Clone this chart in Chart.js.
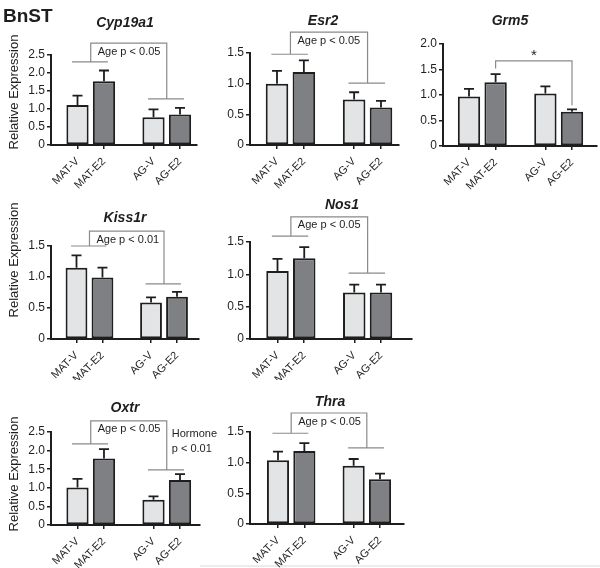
<!DOCTYPE html>
<html><head><meta charset="utf-8">
<script src="https://cdn.jsdelivr.net/npm/chart.js@4.4.1/dist/chart.umd.min.js"></script>
<style>
html,body{margin:0;padding:0;background:#fff;}
body{width:600px;height:568px;overflow:hidden;position:relative;}
canvas{position:absolute;}
#edge{position:absolute;left:200px;top:565px;width:400px;height:2px;background:#ececec;}
</style></head><body>
<div id="edge"></div>
<script>
// ---- data ----
const regionName = 'BnST';
const yAxisTitle = 'Relative Expression';
const categories = ['MAT-V', 'MAT-E2', 'AG-V', 'AG-E2'];
const geneNames = ['Cyp19a1', 'Esr2', 'Grm5', 'Kiss1r', 'Nos1', 'Oxtr', 'Thra'];
const cyp19a1 = [1.11, 1.77, 0.77, 0.85];
const cyp19a1Sem = [0.26, 0.30, 0.22, 0.18];
const esr2 = [1.00, 1.19, 0.74, 0.61];
const esr2Sem = [0.21, 0.19, 0.12, 0.11];
const grm5 = [0.97, 1.25, 1.03, 0.67];
const grm5Sem = [0.15, 0.16, 0.14, 0.05];
const kiss1r = [1.15, 0.99, 0.59, 0.68];
const kiss1rSem = [0.20, 0.16, 0.08, 0.08];
const nos1 = [1.05, 1.25, 0.72, 0.72];
const nos1Sem = [0.19, 0.17, 0.12, 0.12];
const oxtr = [1.01, 1.79, 0.68, 1.21];
const oxtrSem = [0.23, 0.25, 0.09, 0.16];
const thra = [1.04, 1.19, 0.95, 0.73];
const thraSem = [0.14, 0.13, 0.11, 0.09];
const axisMax = [2.5, 1.5, 2.0, 1.5, 1.5, 2.5, 1.5];
const tickStep = 0.5;
const statText = ['Age p < 0.05', 'Age p < 0.05', '*', 'Age p < 0.01', 'Age p < 0.05', 'Age p < 0.05', 'Age p < 0.05'];
const hormoneText = ['Hormone', 'p < 0.01'];

const means = [cyp19a1, esr2, grm5, kiss1r, nos1, oxtr, thra];
const sems = [cyp19a1Sem, esr2Sem, grm5Sem, kiss1rSem, nos1Sem, oxtrSem, thraSem];

// ---- layout (pixels) and annotation levels (axis units) ----
const layout = [
  {L:0,   T:0,   W:205, H:190, axisX:51,  axisEnd:197, zeroY:145, topY:55,  c0:77.5,  c3:180, titleX:125, titleY:23,  yTitleY:92,  br:[2.31,2.83,1.28]},
  {L:200, T:0,   W:205, H:190, axisX:250, axisEnd:399, zeroY:145, topY:53,  c0:277,   c3:381, titleX:323, titleY:21,  br:[1.48,1.84,1.01]},
  {L:400, T:0,   W:200, H:190, axisX:443, axisEnd:597, zeroY:146, topY:44,  c0:469,   c3:572, titleX:510, titleY:21,  pair:true, br:[1.52,1.67,0.80]},
  {L:0,   T:190, W:205, H:190, axisX:51,  axisEnd:199, zeroY:339, topY:246, c0:76.5,  c3:177, titleX:125, titleY:218, yTitleY:260, br:[1.50,1.74,0.89]},
  {L:200, T:190, W:220, H:190, axisX:250, axisEnd:412, zeroY:339, topY:242, c0:277.5, c3:381, titleX:342, titleY:205, br:[1.59,1.89,1.02]},
  {L:0,   T:380, W:220, H:188, axisX:51,  axisEnd:200, zeroY:525, topY:432, c0:77.5,  c3:180, titleX:125, titleY:408, yTitleY:474, br:[2.18,2.80,1.48], hormone:2.45},
  {L:200, T:380, W:210, H:188, axisX:250, axisEnd:404, zeroY:524, topY:432, c0:278,   c3:380, titleX:330, titleY:402, br:[1.48,1.81,1.24]}
];
const GAP = 0.87;
const LIGHT = '#e3e4e6', DARK = '#7f8083', INK = '#1e1e1e', BRACKET = '#8a8a8a';
const FAMILY = '"Liberation Sans", Arial, Helvetica, sans-serif';
Chart.defaults.font.family = FAMILY;
Chart.defaults.color = INK;

const annotPlugin = {
  id: 'annot',
  afterDraw(chart, args, o) {
    const ctx = chart.ctx, xs = chart.scales.x, ys = chart.scales.y;
    const meta = chart.getDatasetMeta(0);
    ctx.save();
    // error bars (upper)
    ctx.strokeStyle = INK; ctx.lineWidth = 1.8;
    meta.data.forEach((bar, i) => {
      const yt = ys.getPixelForValue(o.mean[i] + o.sem[i]);
      ctx.beginPath();
      ctx.moveTo(bar.x, bar.y); ctx.lineTo(bar.x, yt);
      ctx.moveTo(bar.x - 5, yt); ctx.lineTo(bar.x + 5, yt);
      ctx.stroke();
    });
    // brackets
    const sx = o.slots.map(v => xs.getPixelForValue(v));
    const u = sx[1] - sx[0];
    const [mL, tL, aL] = o.br.map(v => ys.getPixelForValue(v));
    ctx.strokeStyle = BRACKET; ctx.lineWidth = 1.2;
    ctx.fillStyle = INK;
    if (o.pair) {
      ctx.beginPath();
      ctx.moveTo(sx[1], mL); ctx.lineTo(sx[1], tL); ctx.lineTo(sx[3], tL); ctx.lineTo(sx[3], aL);
      ctx.stroke();
      ctx.font = '15px ' + FAMILY; ctx.textAlign = 'center'; ctx.textBaseline = 'alphabetic';
      ctx.fillText(o.stat, (sx[1] + sx[3]) / 2, tL - 0.5);
    } else {
      const mMid = (sx[0] + sx[1]) / 2, aMid = (sx[2] + sx[3]) / 2;
      ctx.beginPath();
      ctx.moveTo(sx[0] - 0.21 * u, mL); ctx.lineTo(sx[1] + 0.15 * u, mL);
      ctx.moveTo(mMid, mL); ctx.lineTo(mMid, tL); ctx.lineTo(aMid, tL); ctx.lineTo(aMid, aL);
      ctx.moveTo(sx[2] - 0.21 * u, aL); ctx.lineTo(sx[3] + 0.15 * u, aL);
      ctx.stroke();
      ctx.font = '11px ' + FAMILY; ctx.textAlign = 'left'; ctx.textBaseline = 'middle';
      ctx.fillText(o.stat, mMid + 7, tL + 8.5);
      if (o.hormone !== undefined) {
        const hy = ys.getPixelForValue(o.hormone);
        o.hormoneLines.forEach((t, j) => ctx.fillText(t, aMid + 5, hy + j * 15));
      }
    }
    // gene title
    ctx.font = 'italic bold 14px ' + FAMILY; ctx.textAlign = 'center'; ctx.textBaseline = 'middle';
    ctx.fillText(o.title, o.titleX, o.titleY);
    // y axis title
    if (o.yTitleY !== undefined) {
      ctx.save();
      ctx.translate(14.5, o.yTitleY);
      ctx.rotate(-Math.PI / 2);
      ctx.font = '13px ' + FAMILY; ctx.textAlign = 'center'; ctx.textBaseline = 'middle';
      ctx.fillText(o.yTitle, 0, 0);
      ctx.restore();
    }
    if (o.region) {
      ctx.font = 'bold 19px ' + FAMILY; ctx.textAlign = 'left'; ctx.textBaseline = 'alphabetic';
      ctx.fillText(o.region, 3, 22);
    }
    ctx.restore();
  }
};

function makeChart(k) {
  const P = layout[k];
  const cv = document.createElement('canvas');
  cv.width = P.W; cv.height = P.H;
  cv.style.left = P.L + 'px'; cv.style.top = P.T + 'px';
  cv.style.width = P.W + 'px'; cv.style.height = P.H + 'px';
  document.body.appendChild(cv);
  const slots = categories.map((c, i) => i + (i >= 2 ? GAP : 0));
  const unit = (P.c3 - P.c0) / (3 + GAP);
  const xmin = -(P.c0 - P.axisX) / unit;
  const xmax = 3 + GAP + (P.axisEnd - P.c3) / unit;
  new Chart(cv, {
    type: 'bar',
    data: {
      datasets: [{
        data: means[k].map((v, i) => ({x: slots[i], y: v})),
        backgroundColor: categories.map((c, i) => i % 2 ? DARK : LIGHT),
        borderColor: INK, borderWidth: 2, borderSkipped: false,
        barPercentage: 0.84, categoryPercentage: 1
      }]
    },
    options: {
      responsive: false, animation: false, devicePixelRatio: 1,
      layout: {autoPadding: false, padding: {left: 0, bottom: 0, top: P.topY - P.T, right: P.L + P.W - P.axisEnd}},
      plugins: {
        legend: {display: false}, tooltip: {enabled: false},
        annot: {
          mean: means[k], sem: sems[k], slots: slots, br: P.br, pair: !!P.pair,
          stat: statText[k], title: geneNames[k],
          titleX: P.titleX - P.L, titleY: P.titleY - P.T,
          yTitleY: P.yTitleY !== undefined ? P.yTitleY - P.T : undefined, yTitle: yAxisTitle,
          hormone: P.hormone, hormoneLines: hormoneText,
          region: k === 0 ? regionName : null
        }
      },
      scales: {
        x: {
          type: 'linear', min: xmin, max: xmax, offset: false,
          afterBuildTicks: s => { s.ticks = slots.map(v => ({value: v})); },
          afterFit: s => { s.height = P.H - (P.zeroY - P.T); },
          grid: {display: true, drawOnChartArea: false, drawTicks: true, tickLength: 4, color: INK, lineWidth: 1.5, offset: false},
          border: {display: true, color: INK, width: 2},
          ticks: {autoSkip: false, minRotation: 45, maxRotation: 45, padding: 6, color: INK, font: {size: 11},
                  callback: (v, i) => categories[i]}
        },
        y: {
          min: 0, max: axisMax[k],
          afterFit: s => { s.width = P.axisX - P.L; },
          grid: {display: true, drawOnChartArea: false, drawTicks: true, tickLength: 4, color: INK, lineWidth: 1.5},
          border: {display: true, color: INK, width: 2},
          ticks: {stepSize: tickStep, padding: 2, color: INK, font: {size: 12},
                  callback: v => v === 0 ? '0' : v.toFixed(1)}
        }
      }
    },
    plugins: [annotPlugin]
  });
}
for (let k = 0; k < geneNames.length; k++) makeChart(k);
</script>
</body></html>
